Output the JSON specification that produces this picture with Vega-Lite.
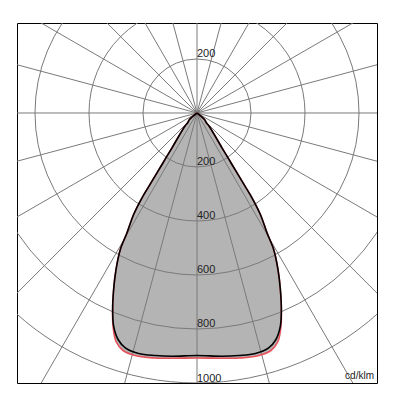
{
  "$schema": "https://vega.github.io/schema/vega-lite/v6.json",
  "width": 360,
  "height": 360,
  "autosize": {"type": "none"},
  "padding": {"left": 17, "top": 23, "right": 23, "bottom": 17},
  "background": "white",
  "config": {"view": {"stroke": "#000000", "strokeWidth": 1}},
  "datasets": {
    "curve": [
      {"plane": "C0", "i": 0, "x": 0, "y": 0},
      {"plane": "C0", "i": 1, "x": 27.8, "y": -24.1},
      {"plane": "C0", "i": 2, "x": 35.2, "y": -37},
      {"plane": "C0", "i": 3, "x": 44.4, "y": -48.1},
      {"plane": "C0", "i": 4, "x": 92.6, "y": -128.9},
      {"plane": "C0", "i": 5, "x": 129.6, "y": -190.7},
      {"plane": "C0", "i": 6, "x": 166.7, "y": -252.6},
      {"plane": "C0", "i": 7, "x": 203.7, "y": -314.1},
      {"plane": "C0", "i": 8, "x": 234.8, "y": -375.9},
      {"plane": "C0", "i": 9, "x": 259.3, "y": -443.7},
      {"plane": "C0", "i": 10, "x": 284.1, "y": -505.6},
      {"plane": "C0", "i": 11, "x": 300, "y": -579.6},
      {"plane": "C0", "i": 12, "x": 308.9, "y": -653.7},
      {"plane": "C0", "i": 13, "x": 312.6, "y": -727.8},
      {"plane": "C0", "i": 14, "x": 308.9, "y": -789.6},
      {"plane": "C0", "i": 15, "x": 292.6, "y": -838.9},
      {"plane": "C0", "i": 16, "x": 265.6, "y": -869.6},
      {"plane": "C0", "i": 17, "x": 216.3, "y": -890.7},
      {"plane": "C0", "i": 18, "x": 154.4, "y": -898.1},
      {"plane": "C0", "i": 19, "x": 92.6, "y": -900.7},
      {"plane": "C0", "i": 20, "x": 0, "y": -898},
      {"plane": "C0", "i": 21, "x": -92.6, "y": -900.7},
      {"plane": "C0", "i": 22, "x": -154.4, "y": -898.1},
      {"plane": "C0", "i": 23, "x": -216.3, "y": -890.7},
      {"plane": "C0", "i": 24, "x": -265.6, "y": -869.6},
      {"plane": "C0", "i": 25, "x": -292.6, "y": -838.9},
      {"plane": "C0", "i": 26, "x": -308.9, "y": -789.6},
      {"plane": "C0", "i": 27, "x": -312.6, "y": -727.8},
      {"plane": "C0", "i": 28, "x": -308.9, "y": -653.7},
      {"plane": "C0", "i": 29, "x": -300, "y": -579.6},
      {"plane": "C0", "i": 30, "x": -284.1, "y": -505.6},
      {"plane": "C0", "i": 31, "x": -259.3, "y": -443.7},
      {"plane": "C0", "i": 32, "x": -234.8, "y": -375.9},
      {"plane": "C0", "i": 33, "x": -203.7, "y": -314.1},
      {"plane": "C0", "i": 34, "x": -166.7, "y": -252.6},
      {"plane": "C0", "i": 35, "x": -129.6, "y": -190.7},
      {"plane": "C0", "i": 36, "x": -92.6, "y": -128.9},
      {"plane": "C0", "i": 37, "x": -44.4, "y": -48.1},
      {"plane": "C0", "i": 38, "x": -35.2, "y": -37},
      {"plane": "C0", "i": 39, "x": -27.8, "y": -24.1},
      {"plane": "C0", "i": 40, "x": 0, "y": 0},
      {"plane": "C90", "i": 0, "x": 0, "y": 0},
      {"plane": "C90", "i": 1, "x": 27.8, "y": -24.1},
      {"plane": "C90", "i": 2, "x": 35.2, "y": -37},
      {"plane": "C90", "i": 3, "x": 44.4, "y": -48.1},
      {"plane": "C90", "i": 4, "x": 92.6, "y": -128.9},
      {"plane": "C90", "i": 5, "x": 129.6, "y": -190.7},
      {"plane": "C90", "i": 6, "x": 166.7, "y": -252.6},
      {"plane": "C90", "i": 7, "x": 203.7, "y": -314.1},
      {"plane": "C90", "i": 8, "x": 234.8, "y": -375.9},
      {"plane": "C90", "i": 9, "x": 259.3, "y": -443.7},
      {"plane": "C90", "i": 10, "x": 284.1, "y": -505.6},
      {"plane": "C90", "i": 11, "x": 300, "y": -579.6},
      {"plane": "C90", "i": 12, "x": 308.9, "y": -653.7},
      {"plane": "C90", "i": 13, "x": 312.6, "y": -727.8},
      {"plane": "C90", "i": 14, "x": 311.1, "y": -789.6},
      {"plane": "C90", "i": 15, "x": 300, "y": -846.3},
      {"plane": "C90", "i": 16, "x": 274.1, "y": -879.6},
      {"plane": "C90", "i": 17, "x": 222.2, "y": -900},
      {"plane": "C90", "i": 18, "x": 155.6, "y": -907.4},
      {"plane": "C90", "i": 19, "x": 92.6, "y": -908.5},
      {"plane": "C90", "i": 20, "x": 0, "y": -907.4},
      {"plane": "C90", "i": 21, "x": -92.6, "y": -908.5},
      {"plane": "C90", "i": 22, "x": -155.6, "y": -907.4},
      {"plane": "C90", "i": 23, "x": -222.2, "y": -900},
      {"plane": "C90", "i": 24, "x": -274.1, "y": -879.6},
      {"plane": "C90", "i": 25, "x": -300, "y": -846.3},
      {"plane": "C90", "i": 26, "x": -311.1, "y": -789.6},
      {"plane": "C90", "i": 27, "x": -312.6, "y": -727.8},
      {"plane": "C90", "i": 28, "x": -308.9, "y": -653.7},
      {"plane": "C90", "i": 29, "x": -300, "y": -579.6},
      {"plane": "C90", "i": 30, "x": -284.1, "y": -505.6},
      {"plane": "C90", "i": 31, "x": -259.3, "y": -443.7},
      {"plane": "C90", "i": 32, "x": -234.8, "y": -375.9},
      {"plane": "C90", "i": 33, "x": -203.7, "y": -314.1},
      {"plane": "C90", "i": 34, "x": -166.7, "y": -252.6},
      {"plane": "C90", "i": 35, "x": -129.6, "y": -190.7},
      {"plane": "C90", "i": 36, "x": -92.6, "y": -128.9},
      {"plane": "C90", "i": 37, "x": -44.4, "y": -48.1},
      {"plane": "C90", "i": 38, "x": -35.2, "y": -37},
      {"plane": "C90", "i": 39, "x": -27.8, "y": -24.1},
      {"plane": "C90", "i": 40, "x": 0, "y": 0}
    ],
    "spokes": [
      {"x1": 0, "y1": 1500, "x2": 0, "y2": -1500},
      {"x1": 388.2, "y1": 1448.9, "x2": -388.2, "y2": -1448.9},
      {"x1": 750, "y1": 1299, "x2": -750, "y2": -1299},
      {"x1": 1060.7, "y1": 1060.7, "x2": -1060.7, "y2": -1060.7},
      {"x1": 1299, "y1": 750, "x2": -1299, "y2": -750},
      {"x1": 1448.9, "y1": 388.2, "x2": -1448.9, "y2": -388.2},
      {"x1": 1500, "y1": 0, "x2": -1500, "y2": 0},
      {"x1": 1448.9, "y1": -388.2, "x2": -1448.9, "y2": 388.2},
      {"x1": 1299, "y1": -750, "x2": -1299, "y2": 750},
      {"x1": 1060.7, "y1": -1060.7, "x2": -1060.7, "y2": 1060.7},
      {"x1": 750, "y1": -1299, "x2": -750, "y2": 1299},
      {"x1": 388.2, "y1": -1448.9, "x2": -388.2, "y2": 1448.9}
    ],
    "rings": [{"r": 200}, {"r": 400}, {"r": 600}, {"r": 800}, {"r": 1000}],
    "labels": [
      {"x": 0, "y": 200, "t": "200"},
      {"x": 0, "y": -200, "t": "200"},
      {"x": 0, "y": -400, "t": "400"},
      {"x": 0, "y": -600, "t": "600"},
      {"x": 0, "y": -800, "t": "800"},
      {"x": 0, "y": -1000, "t": "1000"}
    ],
    "unit": [{"x": 667, "y": -1000, "t": "cd/klm"}]
  },
  "layer": [
    {
      "data": {"name": "curve"},
      "transform": [{"filter": "datum.plane == 'C90'"}],
      "mark": {"type": "line", "fill": "#b4b4b4", "stroke": null, "interpolate": "catmull-rom"},
      "encoding": {
        "x": {"field": "x", "type": "quantitative", "scale": {"domain": [-667, 667], "nice": false, "zero": false}, "axis": null},
        "y": {"field": "y", "type": "quantitative", "scale": {"domain": [-1000, 333.3], "nice": false, "zero": false}, "axis": null},
        "order": {"field": "i"}
      }
    },
    {
      "data": {"name": "spokes"},
      "mark": {"type": "rule", "color": "#7a7a7a", "strokeWidth": 1, "clip": true},
      "encoding": {
        "x": {"field": "x1", "type": "quantitative", "scale": {"domain": [-667, 667], "nice": false, "zero": false}, "axis": null},
        "y": {"field": "y1", "type": "quantitative", "scale": {"domain": [-1000, 333.3], "nice": false, "zero": false}, "axis": null},
        "x2": {"field": "x2"},
        "y2": {"field": "y2"}
      }
    },
    {
      "data": {"name": "rings"},
      "mark": {"type": "arc", "filled": false, "fill": null, "stroke": "#7a7a7a", "strokeWidth": 1, "clip": true},
      "encoding": {
        "x": {"datum": 0, "type": "quantitative", "scale": {"domain": [-667, 667], "nice": false, "zero": false}, "axis": null},
        "y": {"datum": 0, "type": "quantitative", "scale": {"domain": [-1000, 333.3], "nice": false, "zero": false}, "axis": null},
        "radius": {"field": "r", "type": "quantitative", "stack": null, "scale": {"type": "linear", "domain": [0, 1000], "range": [0, 270], "zero": true}}
      }
    },
    {
      "data": {"name": "curve"},
      "transform": [{"filter": "datum.plane == 'C90'"}],
      "mark": {"type": "line", "stroke": "#e8505a", "strokeWidth": 1.6, "interpolate": "catmull-rom"},
      "encoding": {
        "x": {"field": "x", "type": "quantitative", "axis": null},
        "y": {"field": "y", "type": "quantitative", "axis": null},
        "order": {"field": "i"}
      }
    },
    {
      "data": {"name": "curve"},
      "transform": [{"filter": "datum.plane == 'C0'"}],
      "mark": {"type": "line", "stroke": "#000000", "strokeWidth": 1.6, "interpolate": "catmull-rom"},
      "encoding": {
        "x": {"field": "x", "type": "quantitative", "axis": null},
        "y": {"field": "y", "type": "quantitative", "axis": null},
        "order": {"field": "i"}
      }
    },
    {
      "data": {"name": "labels"},
      "mark": {"type": "text", "align": "left", "baseline": "alphabetic", "dy": -1.5, "font": "Liberation Sans", "fontSize": 11, "fill": "#222222"},
      "encoding": {
        "x": {"field": "x", "type": "quantitative", "axis": null},
        "y": {"field": "y", "type": "quantitative", "axis": null},
        "text": {"field": "t"}
      }
    },
    {
      "data": {"name": "unit"},
      "mark": {"type": "text", "align": "right", "baseline": "alphabetic", "dx": -3, "dy": -4, "font": "Liberation Sans", "fontSize": 10, "fill": "#222222"},
      "encoding": {
        "x": {"field": "x", "type": "quantitative", "axis": null},
        "y": {"field": "y", "type": "quantitative", "axis": null},
        "text": {"field": "t"}
      }
    }
  ]
}
